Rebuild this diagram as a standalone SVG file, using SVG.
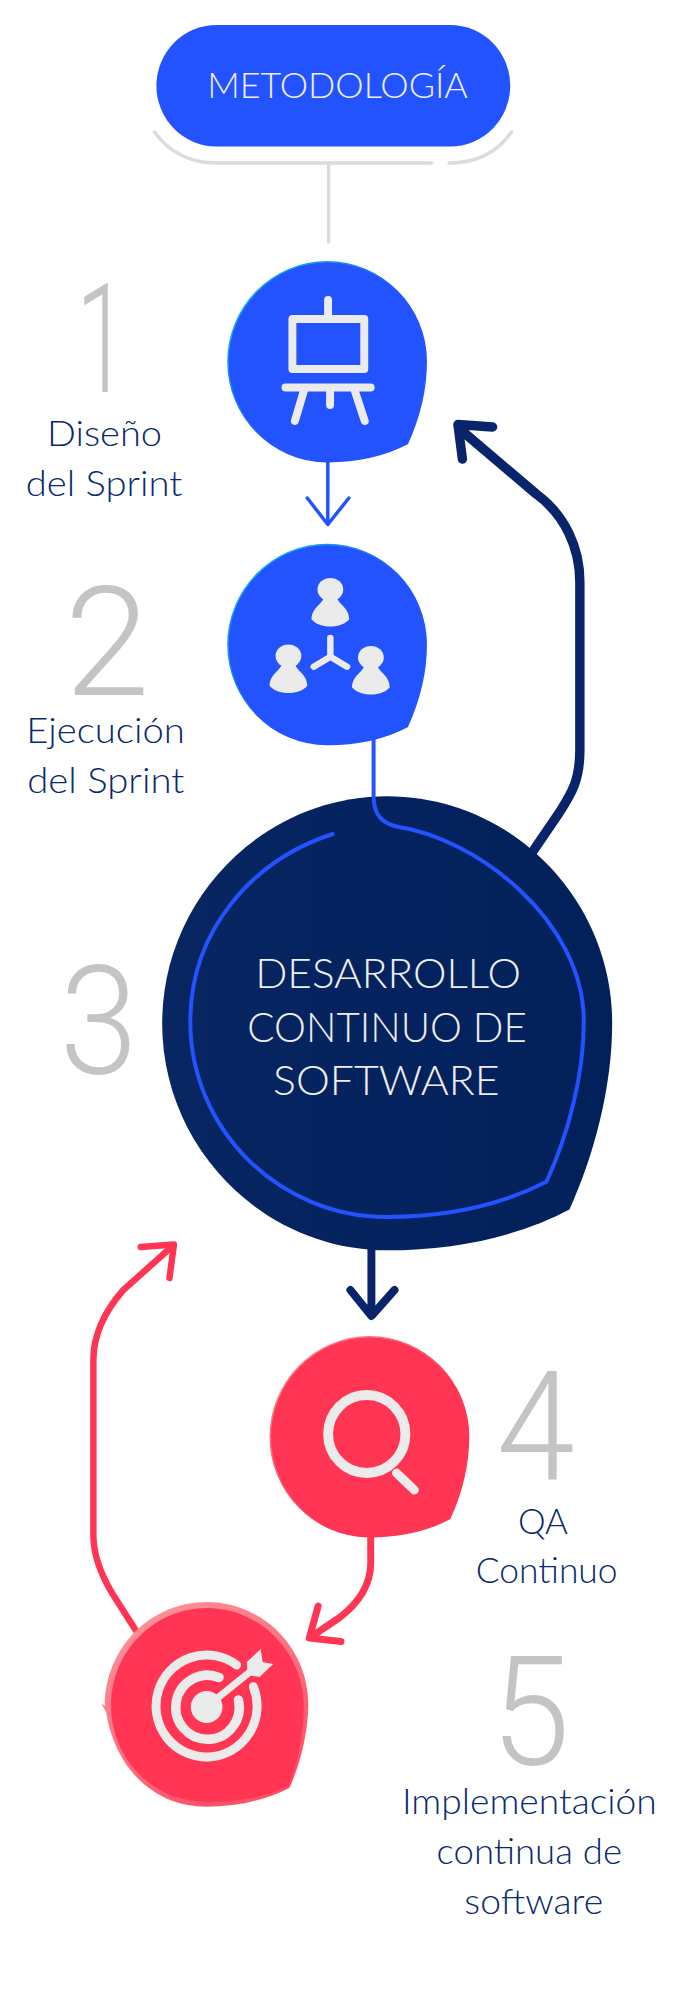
<svg xmlns="http://www.w3.org/2000/svg" xmlns:xlink="http://www.w3.org/1999/xlink" width="691" height="1998" viewBox="0 0 691 1998">
<style>
.lbl{font-family:"Lato","Liberation Sans",sans-serif;font-weight:300;font-size:35px;fill:#0a2a6c}
.num{font-family:"Roboto","Liberation Sans",sans-serif;font-weight:300;font-size:153px;fill:#c4c4c4}
.ttl{font-family:"Lato","Liberation Sans",sans-serif;font-weight:300;fill:#eeeeee;text-anchor:start}
.ic{fill:none;stroke:#ebebeb;stroke-linecap:round;stroke-linejoin:round}
.icf{fill:#ebebeb}
.ln{fill:none;stroke-linecap:round;stroke-linejoin:round}
</style>
<defs>
<path id="blob" d="M0,-100C55,-100 100,-55 100,0C100,28 92,58 81,82C58,94 30,100 0,100C-55,100 -100,55 -100,0C-100,-55 -55,-100 0,-100Z"/>
<linearGradient id="cy" x1="0" y1="0" x2="1" y2="1"><stop offset="0" stop-color="#10d0e8"/><stop offset=".55" stop-color="#2353ff"/></linearGradient>
<linearGradient id="pk" x1="0" y1="0" x2="1" y2="1"><stop offset="0" stop-color="#ff9aa0"/><stop offset=".6" stop-color="#ff3553"/></linearGradient>
<linearGradient id="pk5" x1="0" y1="0" x2=".6" y2="1"><stop offset="0" stop-color="#ff9aa0"/><stop offset="1" stop-color="#ff5068"/></linearGradient>
<linearGradient id="nv" x1="0" y1="0" x2="1" y2="0"><stop offset="0" stop-color="#072662"/><stop offset="1" stop-color="#02205a"/></linearGradient>
<g id="person"><ellipse cx="0" cy="11" rx="13" ry="11.500" class="icf"/><path class="icf" d="M-6,18C-8,26 -19,29 -19,41C-13,47 -6,48 0,48C6,48 13,47 19,41C19,29 8,26 6,18Z"/></g>
</defs>
<g transform="scale(.9912,1)">
<g id="connectors">
<path class="ln" stroke="#dcdcdc" stroke-width="3.500" stroke-linecap="butt" d="M156,132C170,152 192,163 218,163H435.500M453,163C480,163 502,152 516,132"/>
<path class="ln" stroke="#dcdcdc" stroke-width="3.500" stroke-linecap="butt" d="M331.500,163V242"/>
<path class="ln" stroke="#2353ff" stroke-width="3.500" stroke-linecap="butt" d="M330.700,460V524M310,498L330.700,524.500L352,498"/>
<path class="ln" stroke="#09246a" stroke-width="9.500" d="M536.500,853L564,813C577,793 585,780 585,750V582C585,548 570,515 541,494L465,430M497,427L462,424.500L466.500,459"/>
<path class="ln" stroke="#09246a" stroke-width="8" d="M374.700,1229V1315M353.500,1290L374.700,1316L398,1290"/>
<path class="ln" stroke="#ff3553" stroke-width="6.500" stroke-linecap="butt" d="M140,1635L113,1593C101,1573 94.200,1555 94.200,1535V1360C94.200,1335 105,1312 124.400,1290L173,1247"/>
<path class="ln" stroke="#ff3553" stroke-width="6.500" d="M142,1247L175.500,1244.500L171,1278"/>
<path class="ln" stroke="#ff3553" stroke-width="7" stroke-linecap="butt" d="M374,1536V1563C374,1585 362,1603 342,1618L315,1636"/>
<path class="ln" stroke="#ff3553" stroke-width="7" d="M321,1606L312,1638L344,1641.500"/>
</g>
<g id="node-metodologia">
<rect x="157.800" y="25" width="357" height="121.500" rx="60.750" fill="#2353ff"/>
<text class="ttl" x="209" y="98" font-size="35" textLength="263" lengthAdjust="spacingAndGlyphs">METODOLOGÍA</text>
</g>
<g id="node-1">
<use xlink:href="#blob" href="#blob" transform="translate(330,361.700)" fill="#2353ff" stroke="url(#cy)" stroke-width="1.500"/>
<path class="ic" stroke-width="8" d="M331,300V315M288,387.500H374M306.500,391L297.500,421M358,391L368,421M333,391V405"/>
<rect x="295" y="319" width="72.500" height="50" fill="none" stroke="#ebebeb" stroke-width="8" stroke-linejoin="round"/>
</g>
<g id="label-1">
<text class="num" x="77" y="392" textLength="52" lengthAdjust="spacingAndGlyphs">1</text>
<text class="lbl" x="47.500" y="445.700" textLength="116" lengthAdjust="spacingAndGlyphs">Diseño</text>
<text class="lbl" x="26" y="495.700" textLength="158" lengthAdjust="spacingAndGlyphs">del Sprint</text>
</g>
<g id="node-2">
<use xlink:href="#blob" href="#blob" transform="translate(330,644.500)" fill="#2353ff" stroke="url(#cy)" stroke-width="1.500"/>
<use xlink:href="#person" href="#person" transform="translate(333.300,578.500)"/>
<use xlink:href="#person" href="#person" transform="translate(291,645)"/>
<use xlink:href="#person" href="#person" transform="translate(374.200,646.500)"/>
<path class="ic" stroke-width="6.500" d="M333.300,638V656.700L316.500,666.700M333.300,656.700L350.200,666.700"/>
</g>
<g id="label-2">
<text class="num" x="65" y="695" textLength="86" lengthAdjust="spacingAndGlyphs">2</text>
<text class="lbl" x="26.500" y="742.700" textLength="160" lengthAdjust="spacingAndGlyphs">Ejecución</text>
<text class="lbl" x="27.500" y="792.700" textLength="158.500" lengthAdjust="spacingAndGlyphs">del Sprint</text>
</g>
<g id="node-3">
<use xlink:href="#blob" href="#blob" transform="translate(390.600,1023.300) scale(2.270)" fill="url(#nv)"/>
<path class="ln" stroke="#2353ff" stroke-width="4" stroke-linecap="butt" d="M376.900,738V797C377,812 384,823 400,826.500C480,838 589,920 589,1021.500C589,1076 573,1135 551.300,1181.800C505.600,1205 450,1217 390.500,1217C281,1217 192,1129 192,1021.500C192,930 255,860 335.600,834"/>
<text class="ttl" x="257.500" y="988.300" font-size="42" textLength="268" lengthAdjust="spacingAndGlyphs">DESARROLLO</text>
<text class="ttl" x="249.500" y="1041.700" font-size="42" textLength="282" lengthAdjust="spacingAndGlyphs">CONTINUO DE</text>
<text class="ttl" x="275.500" y="1095" font-size="42" textLength="228.500" lengthAdjust="spacingAndGlyphs">SOFTWARE</text>
</g>
<text class="num" id="label-3" x="60" y="1074" textLength="79" lengthAdjust="spacingAndGlyphs">3</text>
<g id="node-4">
<use xlink:href="#blob" href="#blob" transform="translate(372.700,1436.700)" fill="#ff3553" stroke="url(#pk)" stroke-width="1.500"/>
<circle cx="370" cy="1434" r="39" fill="none" stroke="#ebebeb" stroke-width="10"/>
<path class="ic" stroke-width="9" d="M400,1473L418,1490"/>
</g>
<g id="label-4">
<text class="num" x="501" y="1479" textLength="79" lengthAdjust="spacingAndGlyphs">4</text>
<text class="lbl" x="522.600" y="1534" textLength="50.400" lengthAdjust="spacingAndGlyphs">QA</text>
<text class="lbl" x="480" y="1583" textLength="143" lengthAdjust="spacingAndGlyphs">Continuo</text>
</g>
<g id="node-5">
<path fill="url(#pk5)" d="M208.500,1602C265,1602 311,1648 311,1704C311,1732 303,1764 292,1788C268,1800 240,1806.700 208.500,1806.700C155,1806.700 116,1768 107,1712L102,1703L105.800,1706C105.800,1648 152,1602 208.500,1602Z"/>
<path fill="#ff3553" d="M209,1608C262,1608 306.500,1652 306.500,1708C306.500,1733 300,1764 291,1786C268,1797 240,1802 209,1802C155,1802 112,1760 112,1705C112,1652 155,1608 209,1608Z"/>
<path class="ic" stroke-width="9" d="M238.700,1665A51,51 0 1 0 255.600,1686.700"/>
<path class="ic" stroke-width="9.500" d="M221,1677.500A32,32 0 1 0 240.500,1700"/>
<circle cx="208.500" cy="1707" r="16" fill="#ebebeb"/>
<path class="ic" stroke-width="7" d="M212,1704L252,1672"/>
<path class="icf" d="M249,1662L263,1649L265,1662L275.600,1664L262,1677L250,1675Z"/>
</g>
<g id="label-5">
<text class="num" x="495" y="1765" textLength="80" lengthAdjust="spacingAndGlyphs">5</text>
<text class="lbl" x="405.500" y="1814" textLength="257" lengthAdjust="spacingAndGlyphs">Implementación</text>
<text class="lbl" x="440.500" y="1864" textLength="187" lengthAdjust="spacingAndGlyphs">continua de</text>
<text class="lbl" x="468.500" y="1914" textLength="140" lengthAdjust="spacingAndGlyphs">software</text>
</g>
</g>
</svg>
